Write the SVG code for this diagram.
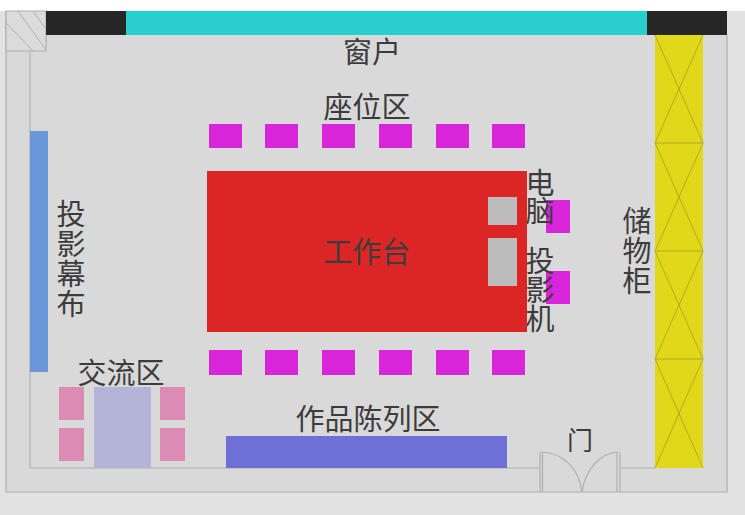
<svg xmlns="http://www.w3.org/2000/svg" width="745" height="515" viewBox="0 0 745 515">
<style>
text{font-family:"Noto Sans CJK SC","Noto Sans",sans-serif;font-size:29px;fill:#3c3c3c;text-anchor:middle;font-weight:400}
.w{fill:none;stroke:#b0b0b0;stroke-width:1.2}
.seat{fill:#d925d9}
.pink{fill:#dc8cb4}
.cab{fill:none;stroke:#b4ac20;stroke-width:1}
.gr{fill:#bcbcbc}
</style>
<rect width="745" height="515" fill="#ffffff"/>
<rect x="0" y="11" width="745" height="504" fill="#e2e2e2"/>
<rect x="6" y="11" width="721" height="481" fill="#d9d9d9"/>
<g id="walls">
<path class="w" d="M6 11V492H727V35M30 51V468H540M620 468H655"/>
</g>
<g id="corner">
<path d="M6 11H46V51H6Z" fill="#dbdbdb" stroke="#b0b0b0" stroke-width="1.2"/>
<path d="M6 23L33 51M18 11L46 50M33 11L46 29" fill="none" stroke="#b0b0b0" stroke-width="1"/>
</g>
<g id="window">
<rect x="46" y="11" width="80" height="24" fill="#262626"/>
<rect x="647" y="11" width="80" height="24" fill="#262626"/>
<rect x="126" y="11" width="521" height="24" fill="#24d0d0"/>
<path d="M126 19H647M126 27H647" stroke="#4cc0bc" stroke-width="1.2" fill="none"/>
<text x="372" y="63">窗户</text>
</g>
<g id="cabinet">
<rect x="655" y="35" width="48" height="433" fill="#e0d818"/>
<path class="cab" d="M655 35L703 143M703 35L655 143M655 143H703M655 143L703 251M703 143L655 251M655 251H703M655 251L703 359M703 251L655 359M655 359H703M655 359L703 468M703 359L655 468"/>
<text><tspan x="637" y="232">储</tspan><tspan x="637" y="262">物</tspan><tspan x="637" y="292">柜</tspan></text>
</g>
<g id="seats-label"><text x="367" y="118">座位区</text></g>
<g id="seats">
<rect class="seat" x="209" y="124" width="33" height="24"/>
<rect class="seat" x="265" y="124" width="33" height="24"/>
<rect class="seat" x="322" y="124" width="33" height="24"/>
<rect class="seat" x="379" y="124" width="33" height="24"/>
<rect class="seat" x="436" y="124" width="33" height="24"/>
<rect class="seat" x="492" y="124" width="33" height="24"/>
<rect class="seat" x="209" y="350" width="33" height="25"/>
<rect class="seat" x="265" y="350" width="33" height="25"/>
<rect class="seat" x="322" y="350" width="33" height="25"/>
<rect class="seat" x="379" y="350" width="33" height="25"/>
<rect class="seat" x="436" y="350" width="33" height="25"/>
<rect class="seat" x="492" y="350" width="33" height="25"/>
<rect class="seat" x="546" y="200" width="24" height="33"/>
<rect class="seat" x="546" y="271" width="24" height="33"/>
</g>
<g id="table">
<rect x="207" y="171" width="320" height="161" fill="#dc2626"/>
<rect class="gr" x="488" y="197" width="29" height="28"/>
<rect class="gr" x="488" y="238" width="29" height="48"/>
<text x="367" y="263">工作台</text>
</g>
<g id="computer">
<text><tspan x="540" y="194">电</tspan><tspan x="540" y="222">脑</tspan></text>
</g>
<g id="projector">
<text><tspan x="540" y="272">投</tspan><tspan x="540" y="301">影</tspan><tspan x="540" y="330">机</tspan></text>
</g>
<g id="screen">
<rect x="30" y="131" width="18" height="241" fill="#6a96dc"/>
<text><tspan x="71" y="225">投</tspan><tspan x="71" y="255">影</tspan><tspan x="71" y="285">幕</tspan><tspan x="71" y="315">布</tspan></text>
</g>
<g id="lounge">
<rect x="94" y="387" width="57" height="81" fill="#b4b4d8"/>
<rect class="pink" x="59" y="387" width="25" height="33"/>
<rect class="pink" x="59" y="428" width="25" height="33"/>
<rect class="pink" x="160" y="387" width="25" height="33"/>
<rect class="pink" x="160" y="428" width="25" height="33"/>
<text x="121" y="384">交流区</text>
</g>
<g id="exhibit">
<rect x="226" y="436" width="281" height="32" fill="#6f6fd8"/>
<text x="368" y="430">作品陈列区</text>
</g>
<g id="door">
<path class="w" d="M540 452V492M542.500 452V492M617 452V492M620 452V492M541 452C565 453 579 470 582 492M618 452C600 453 585 470 582 492"/>
<text x="580" y="450" style="font-size:26px">门</text>
</g>
</svg>
